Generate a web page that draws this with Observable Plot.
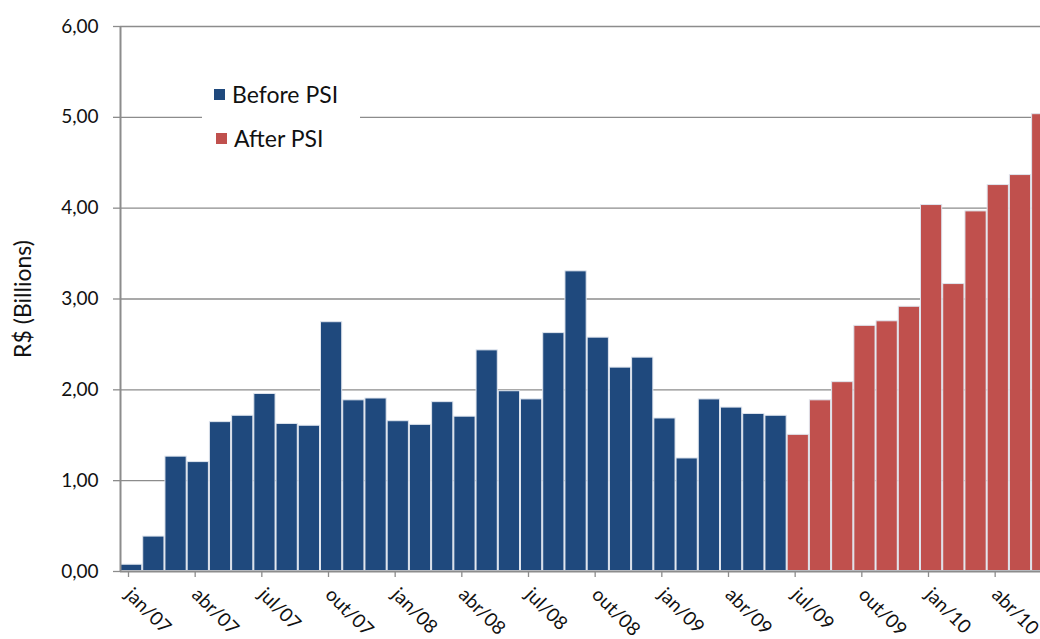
<!DOCTYPE html>
<html>
<head>
<meta charset="utf-8">
<script src="https://cdn.jsdelivr.net/npm/d3@7"></script>
<script src="https://cdn.jsdelivr.net/npm/@observablehq/plot@0.6"></script>
<style>
  html, body { margin: 0; padding: 0; background: #fff; }
  #wrap { position: relative; width: 1040px; height: 639px; overflow: hidden; }
  #wrap svg { overflow: hidden; }
  .legend {
    position: absolute; left: 202px; top: 68px; width: 158px; height: 94px;
    background: #fff; font-family: Lato, "Open Sans", sans-serif; font-size: 23px; color: #111;
  }
  .legend .row { position: absolute; display: flex; align-items: center; white-space: nowrap; line-height: 28px; }
  .legend .sw { width: 11px; height: 11px; margin-right: 7px; }
</style>
</head>
<body>
<div id="wrap"></div>
<script>
// Monthly values, R$ billions, jan/07 – jun/10
const monthLabels = [
  "jan/07","fev/07","mar/07","abr/07","mai/07","jun/07","jul/07","ago/07","set/07","out/07","nov/07","dez/07",
  "jan/08","fev/08","mar/08","abr/08","mai/08","jun/08","jul/08","ago/08","set/08","out/08","nov/08","dez/08",
  "jan/09","fev/09","mar/09","abr/09","mai/09","jun/09","jul/09","ago/09","set/09","out/09","nov/09","dez/09",
  "jan/10","fev/10","mar/10","abr/10","mai/10","jun/10"
];
const beforePSI = [
  0.08, 0.39, 1.27, 1.21, 1.65, 1.72, 1.96, 1.63, 1.61, 2.75, 1.89, 1.91,
  1.66, 1.62, 1.87, 1.71, 2.44, 1.99, 1.90, 2.63, 3.31, 2.58, 2.25, 2.36,
  1.69, 1.25, 1.90, 1.81, 1.74, 1.72
];
const afterPSI = [1.51, 1.89, 2.09, 2.71, 2.76, 2.92, 4.04, 3.17, 3.97, 4.26, 4.37, 5.04];
const seriesNames = ["Before PSI", "After PSI"];
const seriesColors = ["#1F497D", "#C0504D"];
const yTicks = [0, 1, 2, 3, 4, 5, 6];
const xTickIdx = [0, 3, 6, 9, 12, 15, 18, 21, 24, 27, 30, 33, 36, 39];

const rows = [
  ...beforePSI.map((v, i) => ({i, value: v, series: seriesNames[0]})),
  ...afterPSI.map((v, j) => ({i: beforePSI.length + j, value: v, series: seriesNames[1]}))
];

const monthW = 22.222;
const left = 120;
const fmt = d => d.toFixed(2).replace(".", ",");
const font = "Lato, 'Open Sans', sans-serif";

const chart = Plot.plot({
  width: 1040,
  height: 639,
  marginLeft: left,
  marginRight: 0,
  marginTop: 26,
  marginBottom: 68,
  style: {fontFamily: font, background: "#fff", overflow: "hidden"},
  x: {type: "linear", domain: [0, monthLabels.length], range: [left, left + monthLabels.length * monthW]},
  y: {domain: [0, 6]},
  color: {domain: seriesNames, range: seriesColors},
  marks: [
    Plot.ruleY(yTicks.filter(d => d > 0), {stroke: "#8c8c8c", strokeWidth: 1.3}),
    Plot.rectY(rows, {
      x1: "i", x2: d => d.i + 1, y: "value", fill: "series",
      stroke: "#dfe5ee", strokeWidth: 1, inset: 0.5
    }),
    Plot.ruleX([0], {y1: 0, y2: 6, stroke: "#8c8c8c", strokeWidth: 2}),
    Plot.ruleY([0], {stroke: "#8c8c8c", strokeWidth: 2}),
    Plot.axisY({
      ticks: yTicks, tickFormat: fmt, tickSize: 7, tickPadding: 15,
      stroke: "#8c8c8c", strokeWidth: 1.3, fill: "#111", fontSize: 19,
      label: "R$ (Billions)", labelAnchor: "center", labelOffset: 106, labelArrow: "none"
    }),
    Plot.axisX({
      ticks: xTickIdx, tickFormat: i => monthLabels[i], tickSize: 6, tickPadding: 14, dx: 8,
      tickRotate: 45, stroke: "#8c8c8c", strokeWidth: 1.3, fill: "#111", fontSize: 19,
      label: null
    })
  ]
});

const wrap = document.getElementById("wrap");
wrap.appendChild(chart);
// enlarge the y axis title
chart.querySelectorAll("text").forEach(t => {
  if (t.textContent === "R$ (Billions)") t.setAttribute("font-size", 23);
});

const legend = document.createElement("div");
legend.className = "legend";
seriesNames.forEach((name, k) => {
  const row = document.createElement("div");
  row.className = "row";
  row.style.left = (12 + k * 2) + "px";
  row.style.top = (12 + k * 44) + "px";
  const sw = document.createElement("span");
  sw.className = "sw";
  sw.style.background = seriesColors[k];
  const tx = document.createElement("span");
  tx.textContent = name;
  row.appendChild(sw);
  row.appendChild(tx);
  legend.appendChild(row);
});
wrap.appendChild(legend);
</script>
</body>
</html>
